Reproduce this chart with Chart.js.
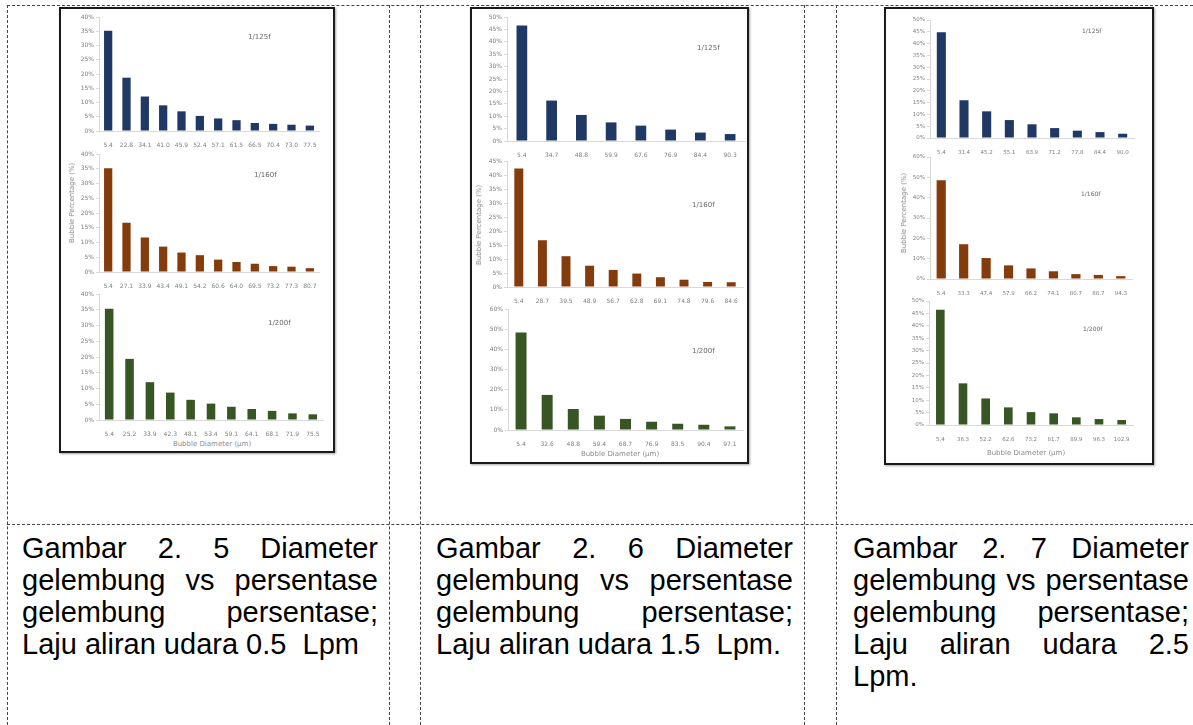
<!DOCTYPE html>
<html>
<head>
<meta charset="utf-8">
<script src="https://cdn.jsdelivr.net/npm/chart.js"></script>
<style>
  body { margin:0; width:1193px; height:725px; background:#fff; position:relative; overflow:hidden;
         font-family:"Liberation Sans", Arial, sans-serif; }
  .hl { position:absolute; height:0; border-top:1px dashed #444; }
  .vl { position:absolute; width:0; border-left:1px dashed #444; }
  .fig { position:absolute; box-sizing:border-box; border:2px solid #1a1a1a; box-shadow:1px 1px 2px rgba(0,0,0,.35); background:#fff; }
  canvas { position:absolute; }
  .lbl { position:absolute; font-family:"DejaVu Sans", sans-serif; color:#666; white-space:nowrap; transform:translateY(-50%); }
  .ytl { position:absolute; font-family:"DejaVu Sans", sans-serif; color:#8c8c8c; font-size:7px; white-space:nowrap; transform:translate(-50%,-50%) rotate(-90deg); }
  .xtl { position:absolute; font-family:"DejaVu Sans", sans-serif; color:#8c8c8c; font-size:7px; white-space:nowrap; transform:translate(-50%,-50%); }
  .cap { position:absolute; font-size:29px; line-height:32px; color:#000; }
  .cap .j { text-align:justify; text-align-last:justify; }
  .cap .l { text-align:left; }
</style>
</head>
<body>

<!-- table lines -->
<div class="hl" style="left:7px; top:5px; width:1186px"></div>
<div class="hl" style="left:7px; top:524px; width:1186px"></div>
<div class="vl" style="left:7px; top:5px; height:720px"></div>
<div class="vl" style="left:389px; top:5px; height:720px"></div>
<div class="vl" style="left:420px; top:5px; height:720px"></div>
<div class="vl" style="left:804px; top:5px; height:720px"></div>
<div class="vl" style="left:836px; top:5px; height:720px"></div>

<!-- figure frames -->
<div class="fig" style="left:59px; top:7px; width:276px; height:446px"></div>
<div class="fig" style="left:470px; top:7px; width:279px; height:457px"></div>
<div class="fig" style="left:884px; top:7px; width:270px; height:458px"></div>

<canvas id="f5a"></canvas><canvas id="f5b"></canvas><canvas id="f5c"></canvas>
<canvas id="f6a"></canvas><canvas id="f6b"></canvas><canvas id="f6c"></canvas>
<canvas id="f7a"></canvas><canvas id="f7b"></canvas><canvas id="f7c"></canvas>

<div class="lbl" style="left:248px; top:37px; font-size:7px">1/125f</div>
<div class="lbl" style="left:254px; top:175px; font-size:7px">1/160f</div>
<div class="lbl" style="left:268px; top:323px; font-size:7px">1/200f</div>
<div class="lbl" style="left:697px; top:48px; font-size:7px">1/125f</div>
<div class="lbl" style="left:692px; top:205px; font-size:7px">1/160f</div>
<div class="lbl" style="left:692px; top:351px; font-size:7px">1/200f</div>
<div class="lbl" style="left:1082px; top:30px; font-size:6px">1/125f</div>
<div class="lbl" style="left:1081px; top:193px; font-size:6px">1/160f</div>
<div class="lbl" style="left:1083px; top:328px; font-size:6px">1/200f</div>

<div class="ytl" style="left:72px; top:203px">Bubble Percentage (%)</div>
<div class="ytl" style="left:479px; top:225px">Bubble Percentage (%)</div>
<div class="ytl" style="left:904px; top:213px">Bubble Percentage (%)</div>
<div class="xtl" style="left:212px; top:444px">Bubble Diameter (µm)</div>
<div class="xtl" style="left:620px; top:454px">Bubble Diameter (µm)</div>
<div class="xtl" style="left:1026px; top:453px">Bubble Diameter (µm)</div>

<div class="cap" style="left:22px; top:532px; width:356px">
  <div class="j">Gambar 2. 5 Diameter</div>
  <div class="j">gelembung vs persentase</div>
  <div class="j">gelembung persentase;</div>
  <div class="l">Laju aliran udara 0.5&nbsp; Lpm</div>
</div>
<div class="cap" style="left:436px; top:532px; width:357px">
  <div class="j">Gambar 2. 6 Diameter</div>
  <div class="j">gelembung vs persentase</div>
  <div class="j">gelembung persentase;</div>
  <div class="l">Laju aliran udara 1.5&nbsp; Lpm.</div>
</div>
<div class="cap" style="left:853px; top:532px; width:336px">
  <div class="j">Gambar 2. 7 Diameter</div>
  <div class="j">gelembung vs persentase</div>
  <div class="j">gelembung persentase;</div>
  <div class="j">Laju aliran udara 2.5</div>
  <div class="l">Lpm.</div>
</div>

<script>
// Gambar 2.5 - 0.5 Lpm
const f5Diam125 = ['5.4','22.8','34.1','41.0','45.9','52.4','57.1','61.5','66.5','70.4','73.0','77.5'];
const f5Pct125  = [35.2, 18.7, 12.1, 9.0, 6.9, 5.3, 4.4, 3.8, 2.8, 2.5, 2.2, 1.9];
const f5Diam160 = ['5.4','27.1','33.9','43.4','49.1','54.2','60.6','64.0','69.5','73.2','77.3','80.7'];
const f5Pct160  = [35.2, 16.7, 11.7, 8.6, 6.6, 5.7, 4.2, 3.4, 2.8, 2.0, 1.8, 1.3];
const f5Diam200 = ['5.4','25.2','33.9','42.3','48.1','53.4','59.1','64.1','68.1','71.9','75.5'];
const f5Pct200  = [35.3, 19.4, 12.0, 8.7, 6.4, 5.2, 4.2, 3.5, 2.9, 2.1, 1.8];

// Gambar 2.6 - 1.5 Lpm
const f6Diam125 = ['5.4','34.7','48.8','59.9','67.6','76.9','84.4','90.3'];
const f6Pct125  = [46.6, 16.3, 10.5, 7.5, 6.2, 4.6, 3.4, 2.8];
const f6Diam160 = ['5.4','28.7','39.5','48.9','56.7','62.8','69.1','74.8','79.6','84.6'];
const f6Pct160  = [42.3, 16.7, 11.0, 7.6, 6.1, 4.8, 3.5, 2.6, 1.8, 1.7];
const f6Diam200 = ['5.4','32.6','48.8','59.4','68.7','76.9','83.5','90.4','97.1'];
const f6Pct200  = [48.4, 17.4, 10.4, 7.1, 5.5, 4.1, 3.1, 2.6, 1.8];

// Gambar 2.7 - 2.5 Lpm
const f7Diam125 = ['5.4','31.4','45.2','55.1','63.9','71.2','77.8','84.4','90.0'];
const f7Pct125  = [44.8, 16.0, 11.3, 7.6, 5.8, 4.2, 3.1, 2.5, 1.8];
const f7Diam160 = ['5.4','33.3','47.4','57.9','66.2','74.1','80.7','88.7','94.3'];
const f7Pct160  = [48.6, 17.1, 10.3, 6.7, 5.2, 3.8, 2.4, 2.0, 1.4];
const f7Diam200 = ['5.4','36.3','52.2','62.6','73.2','81.7','89.9','96.3','102.9'];
const f7Pct200  = [46.5, 16.8, 10.7, 7.1, 5.2, 4.7, 3.1, 2.4, 2.0];

const NAVY = '#1f3864', BROWN = '#843c0c', GREEN = '#375623';

function barChart(id, plot, labels, values, color, yMax, yStep, barPct, fs) {
  const YW = 30, XH = 16, PT = 6, PR = 6;
  const cv = document.getElementById(id);
  cv.width = plot.r - plot.l + YW + PR;
  cv.height = plot.b - plot.t + PT + XH;
  cv.style.left = (plot.l - YW) + 'px';
  cv.style.top = (plot.t - PT) + 'px';

  new Chart(cv, {
    type: 'bar',
    data: {
      labels: labels,
      datasets: [{ data: values, backgroundColor: color, borderWidth: 0,
                   barPercentage: barPct, categoryPercentage: 1 }]
    },
    options: {
      responsive: false,
      animation: false,
      devicePixelRatio: 1,
      layout: { padding: { top: PT, right: PR, left: 0, bottom: 0 } },
      plugins: { legend: { display: false }, tooltip: { enabled: false } },
      scales: {
        x: {
          grid: { display: false },
          border: { display: true, color: '#d9d9d9' },
          ticks: { color: '#7f7f7f', font: { size: fs, family: 'DejaVu Sans' }, padding: 3,
                   maxRotation: 0, autoSkip: false },
          afterFit: s => { s.height = XH; }
        },
        y: {
          min: 0, max: yMax,
          grid: { drawOnChartArea: false, tickLength: 3, color: '#d9d9d9' },
          border: { color: '#d9d9d9' },
          ticks: { stepSize: yStep, color: '#7f7f7f', font: { size: fs, family: 'DejaVu Sans' },
                   padding: 2, callback: v => v + '%' },
          afterFit: s => { s.width = YW; }
        }
      }
    }
  });
}

window.addEventListener('load', function () {
  barChart('f5a', {l:99, r:319, t:17, b:131},  f5Diam125, f5Pct125, NAVY,  40, 5, 0.45, 6);
  barChart('f5b', {l:99, r:319, t:154, b:272}, f5Diam160, f5Pct160, BROWN, 40, 5, 0.45, 6);
  barChart('f5c', {l:99, r:323, t:294, b:420}, f5Diam200, f5Pct200, GREEN, 40, 5, 0.42, 6);

  barChart('f6a', {l:507, r:745, t:17, b:141},  f6Diam125, f6Pct125, NAVY,  50, 5, 0.36, 6);
  barChart('f6b', {l:507, r:743, t:161, b:287}, f6Diam160, f6Pct160, BROWN, 45, 5, 0.38, 6);
  barChart('f6c', {l:508, r:743, t:309, b:430}, f6Diam200, f6Pct200, GREEN, 60, 10, 0.42, 6);

  barChart('f7a', {l:930, r:1134, t:20, b:138},  f7Diam125, f7Pct125, NAVY,  50, 5, 0.40, 5.5);
  barChart('f7b', {l:930, r:1132, t:157, b:279}, f7Diam160, f7Pct160, BROWN, 60, 10, 0.41, 5.5);
  barChart('f7c', {l:929, r:1133, t:301, b:425}, f7Diam200, f7Pct200, GREEN, 50, 5, 0.38, 5.5);
});
</script>
</body>
</html>
